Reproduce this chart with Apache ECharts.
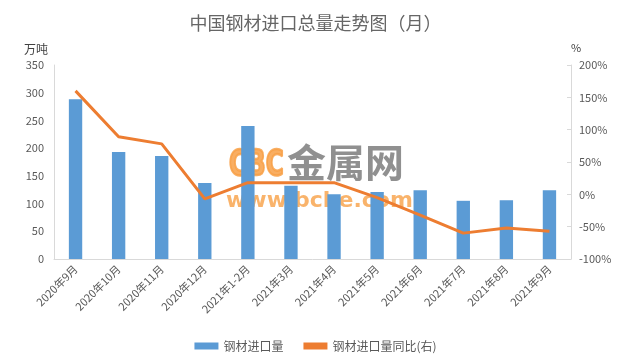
<!DOCTYPE html>
<html><head><meta charset="utf-8">
<script src="https://cdn.jsdelivr.net/npm/echarts@6/dist/echarts.min.js"></script>
<style>html,body{margin:0;padding:0;background:#fff}#c{width:631px;height:363px}</style>
</head><body><div id="c"></div>
<script>
const categories = ['2020年9月','2020年10月','2020年11月','2020年12月','2021年1-2月','2021年3月','2021年4月','2021年5月','2021年6月','2021年7月','2021年8月','2021年9月'];
const importVolume = [288, 193, 186, 137, 240, 132, 117, 121, 124, 105, 106, 124];
const importYoY = [160, 89, 78, -7, 18, 18, 18, -5, -32, -60, -52, -57];
const leftTicks = {min: 0, max: 350, interval: 50};
const rightTicks = {min: -100, max: 200, interval: 50};

const FONT = '"Noto Sans CJK SC", sans-serif';
const chart = echarts.init(document.getElementById('c'));
chart.setOption({
  animation: false,
  textStyle: {fontFamily: FONT},
  title: {text: '中国钢材进口总量走势图（月）', left: 'center', top: 9,
    textStyle: {fontSize: 18, fontWeight: 'normal', color: '#666666', fontFamily: FONT}},
  grid: {left: 54, right: 60, top: 65, bottom: 104},
  legend: {bottom: 6, left: 'center', itemGap: 20, itemWidth: 24, itemHeight: 7,
    textStyle: {fontSize: 12, color: '#595959', fontFamily: FONT},
    data: [{name: '钢材进口量', icon: 'rect'}, {name: '钢材进口量同比(右)', icon: 'rect'}]},
  graphic: [
    {type: 'text', x: 229, y: 148, scaleX: 0.7, z: 0,
      style: {text: 'CBC', fontSize: 35, fontWeight: 'bold', fill: 'rgba(248,160,70,0.85)', stroke: 'rgba(248,160,70,0.85)', lineWidth: 2.5, fontFamily: '"DejaVu Sans", sans-serif'}},
    {type: 'text', x: 287, y: 143, z: 0,
      style: {text: '金属网', fontSize: 39, fontWeight: 'bold', fill: 'rgba(125,125,125,0.85)', fontFamily: FONT}},
    {type: 'text', x: 226, y: 190, z: 0,
      style: {text: 'www.bcbe.com', fontSize: 22, fontWeight: 'bold', fill: 'rgba(248,160,70,0.8)', fontFamily: '"DejaVu Sans", sans-serif'}}
  ],
  xAxis: {type: 'category', data: categories, boundaryGap: true,
    axisLine: {lineStyle: {color: '#d9d9d9'}},
    axisTick: {inside: true, length: 5, lineStyle: {color: '#d9d9d9'}},
    axisLabel: {rotate: 45, fontSize: 11, color: '#595959', interval: 0, margin: 8}},
  yAxis: [
    {type: 'value', name: '万吨', nameLocation: 'end', nameGap: 10,
      nameTextStyle: {color: '#404040', fontSize: 12, align: 'right', padding: [0, 6, 0, 0]},
      min: leftTicks.min, max: leftTicks.max, interval: leftTicks.interval,
      axisLine: {show: true, lineStyle: {color: '#d9d9d9'}},
      axisTick: {show: false}, splitLine: {show: false},
      axisLabel: {fontSize: 11, color: '#595959', margin: 10}},
    {type: 'value', name: '%', nameLocation: 'end', nameGap: 12,
      nameTextStyle: {color: '#404040', fontSize: 11, align: 'left'},
      min: rightTicks.min, max: rightTicks.max, interval: rightTicks.interval,
      axisLine: {show: true, lineStyle: {color: '#d9d9d9'}},
      axisTick: {show: true, inside: true, length: 4, lineStyle: {color: '#d9d9d9'}},
      splitLine: {show: false},
      axisLabel: {fontSize: 11, color: '#595959', formatter: '{value}%', margin: 8}}
  ],
  series: [
    {name: '钢材进口量', type: 'bar', data: importVolume, barWidth: '31%', z: 2,
      itemStyle: {color: '#5b9bd5'}},
    {name: '钢材进口量同比(右)', type: 'line', yAxisIndex: 1, data: importYoY, z: 3,
      symbol: 'none', lineStyle: {color: '#ed7d31', width: 3}, itemStyle: {color: '#ed7d31'}}
  ]
});
</script></body></html>
